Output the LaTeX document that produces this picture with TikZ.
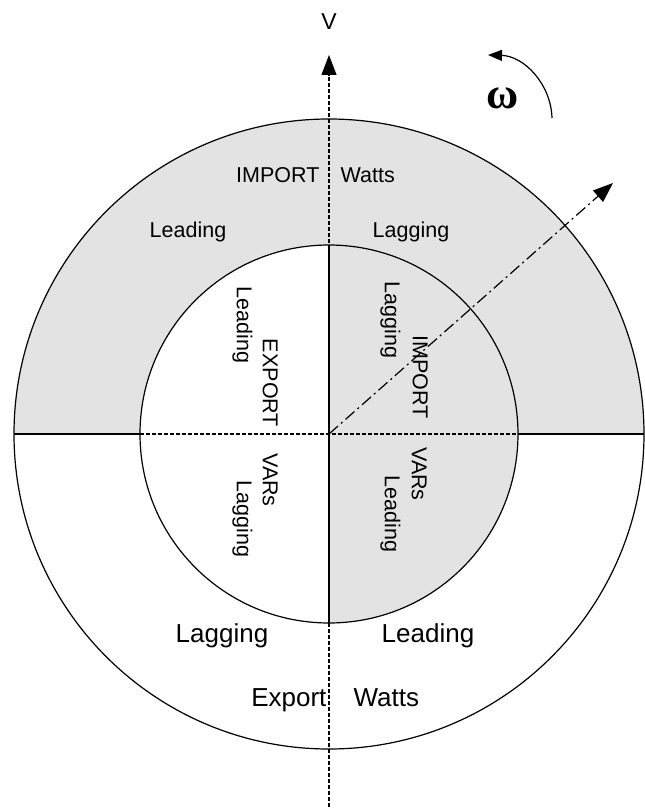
\documentclass[tikz,border=0pt]{standalone}
\usepackage{fontspec}
\setmainfont{Liberation Sans}
\newfontfamily\greekfont{Liberation Serif}
\usetikzlibrary{arrows.meta,positioning}
\definecolor{shadegray}{HTML}{E3E3E3}
\tikzset{
  lbl/.style={inner sep=0pt, font=\fontsize{21.5}{24}\selectfont},
  biglbl/.style={inner sep=0pt, font=\fontsize{26}{30}\selectfont},
  vlbl/.style={lbl, rotate=-90, anchor=base},
  axisline/.style={dash pattern=on 4pt off 2pt},
  phasor/.style={dash pattern=on 12pt off 4pt on 2pt off 4pt},
}

\begin{document}
\begin{tikzpicture}[x=1pt, y=1pt, line width=1.2pt, node distance=20pt]
    \useasboundingbox (-329,-375) rectangle (316,434);

    % Points
    \coordinate (O) at (0,0);
    \coordinate (vbot) at (0,-373);
    \coordinate (vtip) at (0,379);
    \coordinate (itop) at (0,189);
    \coordinate (ibot) at (0,-189);
    \coordinate (il) at (-189,0);
    \coordinate (ir) at (189,0);
    \coordinate (ol) at (-315,0);
    \coordinate (or) at (315,0);
    \coordinate (ptip) at (284,251);
    \coordinate (wstart) at (223,316);
    \coordinate (wtip) at (159,379);

    % Shading
    \fill[shadegray] (or) arc (0:180:315pt) -- cycle;
    \fill[white] (O) -- (itop) arc (90:180:189pt) -- cycle;
    \fill[shadegray] (O) -- (ibot) arc (-90:0:189pt) -- cycle;

    % Circles
    \draw (O) circle (315pt);
    \draw (O) circle (189pt);

    % Axes
    \draw (ol) -- (il);
    \draw (ir) -- (or);
    \draw[axisline] (il) -- (ir);
    \draw[axisline, -{Triangle[length=20pt,width=15pt]}] (vbot) -- (vtip);
    \draw (ibot) -- (itop);
    \draw[phasor, -{Triangle[length=20pt,width=15pt]}] (O) -- (ptip);
    \draw[-{Triangle[length=14pt,width=11pt]}] (wstart) .. controls (222,350) and (195,378) .. (wtip);

    % Nodes
    \node[inner sep=0pt, font=\fontsize{23}{26}\selectfont, above=25pt of vtip] (vlab) {V};
    \node[inner sep=0pt, font=\greekfont\bfseries\fontsize{44}{48}\selectfont] (omega) at (174,336) {ω};

    % Outer ring
    \node[lbl, anchor=east] (impT) at (-9,259) {IMPORT};
    \node[lbl, right=of impT] (wattT) {Watts};
    \node[lbl, anchor=base] (leadT) at (-141,196) {Leading};
    \node[lbl, anchor=base] (lagT) at (82,196) {Lagging};
    \node[biglbl, anchor=base] (lagB) at (-107,-208) {Lagging};
    \node[biglbl, anchor=base] (leadB) at (99,-208) {Leading};
    \node[biglbl, anchor=base east] (expB) at (-2,-272) {Export};
    \node[biglbl, base right=26pt of expB] (wattB) {Watts};

    % Inner circle
    \node[vlbl] (leadUL) at (-92,109) {Leading};
    \node[vlbl] (expUL) at (-66,51) {EXPORT};
    \node[vlbl] (lagUR) at (56,114) {Lagging};
    \node[vlbl] (impUR) at (84,57) {IMPORT};
    \node[vlbl] (varLL) at (-66,-46) {VARs};
    \node[vlbl] (lagLL) at (-92,-85) {Lagging};
    \node[vlbl] (varLR) at (83,-40) {VARs};
    \node[vlbl] (leadLR) at (56,-80) {Leading};

\end{tikzpicture}
\end{document}
